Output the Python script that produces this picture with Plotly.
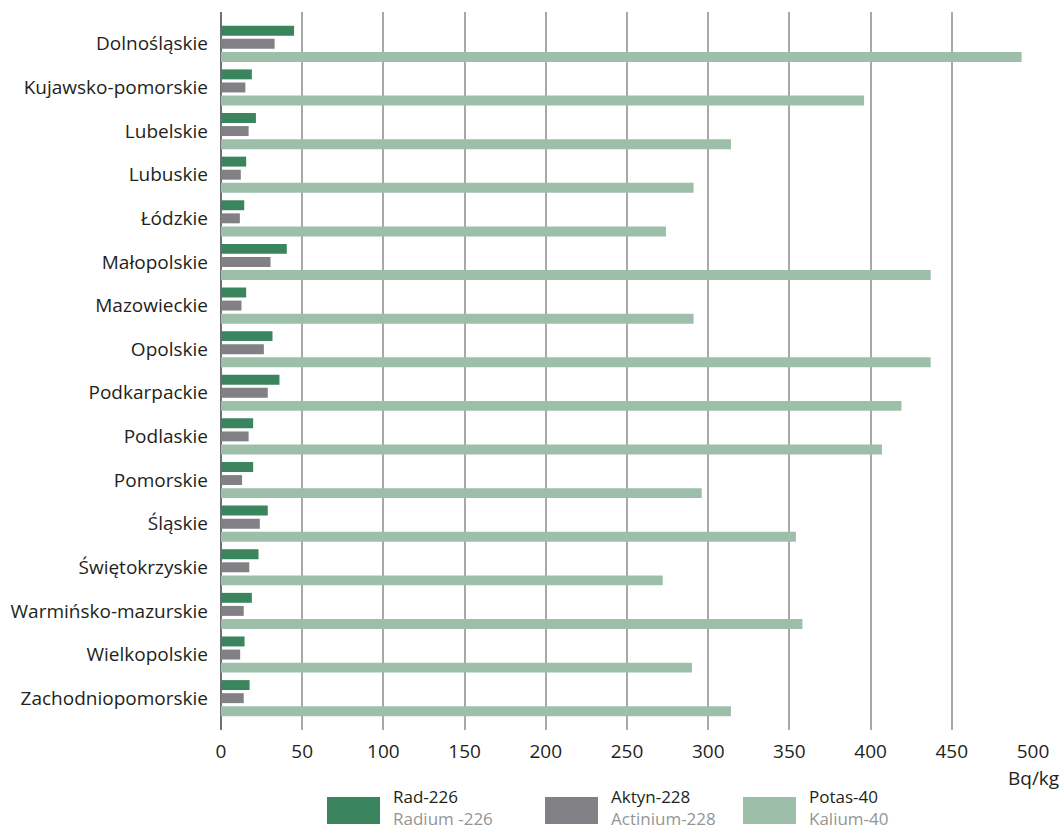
import plotly.graph_objects as go

regions = ["Dolnośląskie", "Kujawsko-pomorskie", "Lubelskie", "Lubuskie", "Łódzkie",
           "Małopolskie", "Mazowieckie", "Opolskie", "Podkarpackie", "Podlaskie",
           "Pomorskie", "Śląskie", "Świętokrzyskie", "Warmińsko-mazurskie",
           "Wielkopolskie", "Zachodniopomorskie"]
rad226 = [45, 19, 21.5, 15.5, 14.3, 40.5, 15.5, 31.7, 36, 19.8, 19.8, 28.8, 23.1, 19, 14.5, 17.6]
aktyn228 = [33, 15, 17, 12.2, 11.6, 30.5, 12.6, 26.4, 28.8, 17, 13, 23.9, 17.4, 14, 11.8, 14]
potas40 = [493, 396, 314, 291, 274, 437, 291, 437, 419, 407, 296, 354, 272, 358, 290, 314]

series_pl = ["Rad-226", "Aktyn-228", "Potas-40"]
series_en = ["Radium -226", "Actinium-228", "Kalium-40"]
colors = ["#3A855D", "#808085", "#9DBFA9"]
x_ticks = [0, 50, 100, 150, 200, 250, 300, 350, 400, 450, 500]
unit = "Bq/kg"

FONT = "Open Sans"
TXT = "#231F20"
FS = 19

fig = go.Figure()
for name, vals, col in zip(series_pl, [rad226, aktyn228, potas40], colors):
    fig.add_trace(go.Bar(y=regions, x=vals, orientation="h", name=name,
                         marker=dict(color=col, line=dict(width=0)),
                         showlegend=False))

fig.update_layout(
    width=1062, height=832,
    margin=dict(l=221, r=29, t=12, b=102),
    paper_bgcolor="white", plot_bgcolor="white",
    barmode="group", bargap=0.1, bargroupgap=0.24,
    font=dict(family=FONT, size=FS, color=TXT),
    xaxis=dict(range=[0, 500], tickvals=x_ticks, showgrid=True,
               gridcolor="#A8A8A8", gridwidth=1.5,
               zeroline=True, zerolinecolor="#707070", zerolinewidth=1.5,
               showline=False, ticks="", ticklabelstandoff=8,
               tickfont=dict(family=FONT, size=FS, color=TXT)),
    yaxis=dict(range=[15.73, -0.73], showgrid=False, zeroline=False,
               showline=False, ticks="", ticklabelstandoff=12,
               tickfont=dict(family=FONT, size=FS, color=TXT)),
)

fig.add_annotation(x=500, xref="x", y=(730 - 778) / 718, yref="paper", text=unit,
                   showarrow=False, xanchor="center", yanchor="middle",
                   font=dict(family=FONT, size=FS, color=TXT))

# legend (swatches + two-line labels)
leg_x = [327, 545, 743]
for lx, pl, en, col in zip(leg_x, series_pl, series_en, colors):
    fig.add_shape(type="rect", xref="paper", yref="paper",
                  x0=(lx - 221) / 812, x1=(lx + 53 - 221) / 812,
                  y0=(730 - 824) / 718, y1=(730 - 797) / 718,
                  fillcolor=col, line=dict(width=0))
    fig.add_annotation(xref="paper", yref="paper",
                       x=(lx + 64 - 221) / 812, y=(730 - 807) / 718,
                       text=f"{pl}<br><span style='color:#959595'>{en}</span>",
                       showarrow=False, xanchor="left", yanchor="middle", align="left",
                       font=dict(family=FONT, size=17, color=TXT))

fig.write_html(
    "out.html",
    config={"displayModeBar": False},
    post_script="document.body.style.margin='0px';document.body.style.overflow='hidden';",
)
